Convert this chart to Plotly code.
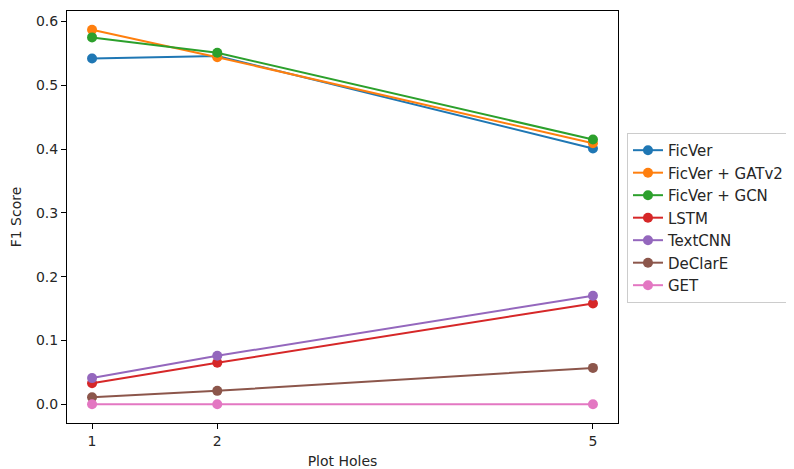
import plotly.graph_objects as go

x_vals = [1, 2, 5]
series_names = ["FicVer", "FicVer + GATv2", "FicVer + GCN", "LSTM", "TextCNN", "DeClarE", "GET"]
ficver = [0.542, 0.546, 0.401]
ficver_gatv2 = [0.587, 0.544, 0.409]
ficver_gcn = [0.575, 0.551, 0.415]
lstm = [0.033, 0.065, 0.158]
textcnn = [0.041, 0.076, 0.170]
declare = [0.011, 0.021, 0.057]
get_vals = [0.0, 0.0, 0.0]
colors = ["#1f77b4", "#ff7f0e", "#2ca02c", "#d62728", "#9467bd", "#8c564b", "#e377c2"]

all_series = [ficver, ficver_gatv2, ficver_gcn, lstm, textcnn, declare, get_vals]

fig = go.Figure()
for name, ys, c in zip(series_names, all_series, colors):
    fig.add_trace(go.Scatter(
        x=x_vals, y=ys, name=name, mode="lines+markers",
        line=dict(color=c, width=2),
        marker=dict(color=c, size=10),
    ))

axis_common = dict(
    showline=True, linecolor="black", linewidth=1, mirror=True,
    ticks="outside", ticklen=5, tickcolor="black", tickwidth=1,
    showgrid=False, zeroline=False, automargin=False,
    tickfont=dict(size=14, color="#262626"),
)

# page body has an 8px margin, so the figure is sized to fit the window
fig.update_layout(
    width=786, height=461,
    margin=dict(l=59, r=176, t=3, b=46),
    plot_bgcolor="white", paper_bgcolor="white",
    font=dict(family="DejaVu Sans", size=14, color="#262626"),
    xaxis=dict(range=[0.8, 5.2], tickvals=x_vals, ticktext=["1", "2", "5"],
               title=dict(text="Plot Holes", standoff=8, font=dict(size=14)), **axis_common),
    yaxis=dict(range=[-0.0294, 0.6164], tickvals=[0, 0.1, 0.2, 0.3, 0.4, 0.5, 0.6],
               ticktext=["0.0", "0.1", "0.2", "0.3", "0.4", "0.5", "0.6"],
               title=dict(text="F1 Score", standoff=12, font=dict(size=14)), **axis_common),
    legend=dict(xref="container", yref="container", x=0.7875, y=0.729,
                xanchor="left", yanchor="top",
                bordercolor="#cccccc", borderwidth=1, bgcolor="white",
                font=dict(size=15), tracegroupgap=0),
    showlegend=True,
)

fig.write_html("out.html")
